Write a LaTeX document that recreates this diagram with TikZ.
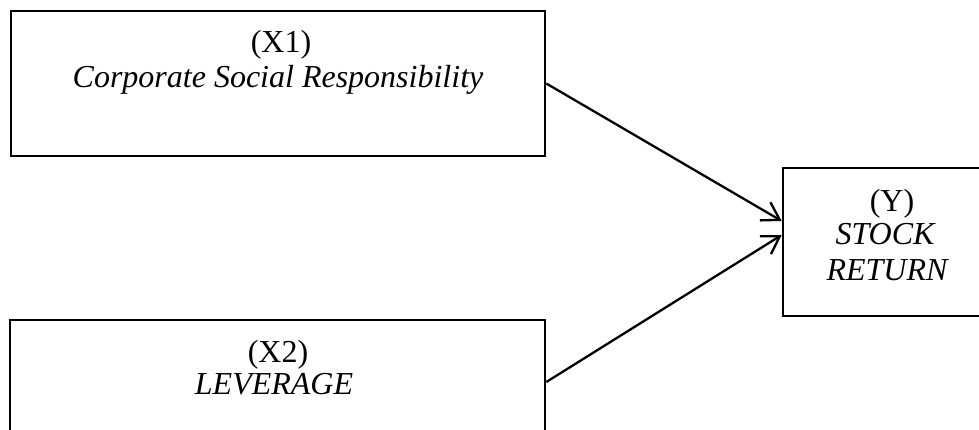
\documentclass[tikz,border=0pt]{standalone}
\usepackage{fontspec}
\setmainfont{Liberation Serif}
\usetikzlibrary{arrows.meta}
\begin{document}
\begin{tikzpicture}[x=1pt,y=-1pt,
  box/.style={draw, line width=2.6pt, inner sep=0pt},
  lbl/.style={anchor=base, inner sep=0pt, font=\fontsize{32}{35}\selectfont},
  conn/.style={line width=2.3pt, -{Straight Barb[length=17pt,width=21pt,line width=2.3pt]}}]
\useasboundingbox (0,0) rectangle (979,430);
\clip (0,0) rectangle (979,430);
% boxes
\node[box, minimum width=534pt, minimum height=145pt] (x1) at (278,83.5) {};
\node[box, minimum width=535pt, minimum height=124pt] (x2) at (277.5,382) {};
\node[box, minimum width=204pt, minimum height=148pt] (y) at (885,242) {};
% texts
\node[lbl] (x1a) at (281,52.5) {(X1)};
\node[lbl] (x1b) at (278,88) {\itshape Corporate Social Responsibility};
\node[lbl] (x2a) at (278,362) {(X2)};
\node[lbl] (x2b) at (274,394.5) {\itshape LEVERAGE};
\node[lbl] (ya) at (892,211.5) {(Y)};
\node[lbl] (yb) at (885,244.5) {\itshape STOCK};
\node[lbl] (yc) at (887,280) {\itshape RETURN};
% connectors
\draw[conn] (x1.east) -- ([yshift=21pt]y.west);
\draw[conn] (x2.east) -- ([yshift=7pt]y.west);
\end{tikzpicture}
\end{document}
